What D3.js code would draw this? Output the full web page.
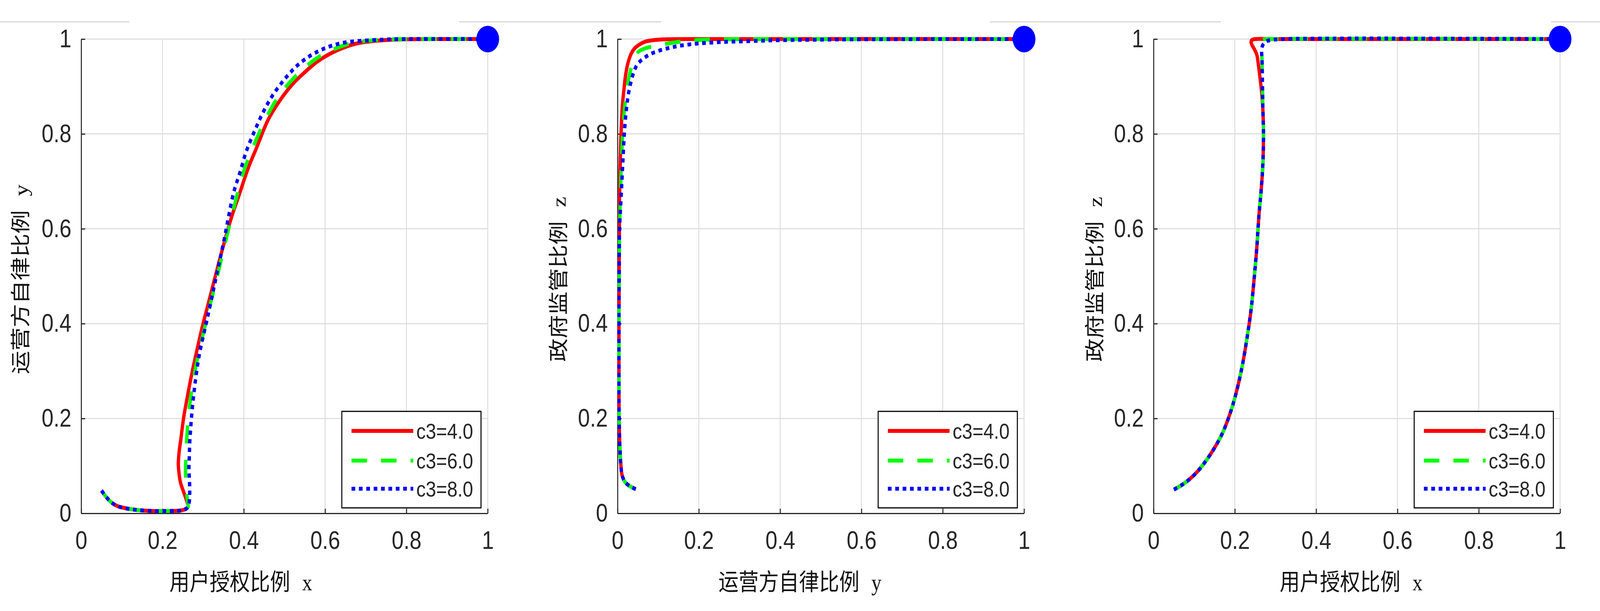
<!DOCTYPE html>
<html>
<head>
<meta charset="utf-8">
<script src="https://cdn.jsdelivr.net/npm/d3@7"></script>
<style>
  html, body { margin: 0; width: 100%; height: 100%; overflow: hidden; background: #fff; }
  svg { display: block; width: 100vw; height: 100vh; }
</style>
</head>
<body>
<svg id="chart"></svg>
<script>
// ---- data ----
const seriesNames = ["c3=4.0", "c3=6.0", "c3=8.0"];
const tickValues = [0, 0.2, 0.4, 0.6, 0.8, 1];
const tickLabels = ["0", "0.2", "0.4", "0.6", "0.8", "1"];
const xLabels = ["用户授权比例", "运营方自律比例", "用户授权比例"];
const xVars = ["x", "y", "x"];
const yLabels = ["运营方自律比例", "政府监管比例", "政府监管比例"];
const yVars = ["y", "z", "z"];
const endPoint = [1, 1];

// panel 1: x (user) vs y (operator)
const xyRed = [[0.05,0.048],[0.062,0.034],[0.076,0.022],[0.09,0.015],[0.105,0.0115],[0.134,0.0074],[0.177,0.005],[0.219,0.005],[0.245,0.006],[0.257,0.009],[0.263,0.014],
  [0.259,0.028],[0.252,0.045],[0.244,0.066],[0.24,0.09],[0.239,0.105],[0.241,0.13],[0.245,0.155],[0.248,0.176],[0.2525,0.204],[0.261,0.245],[0.2735,0.3],[0.284,0.341],
  [0.297,0.39],[0.312,0.44],[0.33,0.5],[0.35,0.565],[0.37,0.625],[0.388,0.67],[0.41,0.726],[0.432,0.772],[0.46,0.83],[0.49,0.872],[0.52,0.905],[0.55,0.93],
  [0.58,0.952],[0.61,0.968],[0.64,0.98],[0.67,0.989],[0.7,0.994],[0.75,0.998],[0.8,0.9995],[0.9,1],[1,1]];
const xyGreen = [[0.05,0.048],[0.062,0.034],[0.076,0.022],[0.09,0.015],[0.105,0.0115],[0.134,0.0074],[0.177,0.005],[0.219,0.005],[0.245,0.006],[0.257,0.009],[0.263,0.014],
  [0.261,0.03],[0.259,0.05],[0.257,0.08],[0.257,0.1],[0.258,0.13],[0.26,0.16],[0.263,0.2],[0.268,0.235],[0.274,0.27],[0.282,0.31],[0.29,0.341],[0.302,0.385],
  [0.316,0.435],[0.332,0.49],[0.35,0.555],[0.37,0.625],[0.394,0.705],[0.412,0.75],[0.43,0.787],[0.46,0.842],[0.49,0.885],[0.52,0.915],[0.55,0.94],[0.58,0.96],
  [0.61,0.974],[0.64,0.985],[0.67,0.992],[0.7,0.996],[0.75,0.999],[0.8,1],[1,1]];
const xyBlue = [[0.05,0.048],[0.062,0.034],[0.076,0.022],[0.09,0.015],[0.105,0.0115],[0.134,0.0074],[0.177,0.005],[0.219,0.005],[0.245,0.006],[0.257,0.009],[0.263,0.014],
  [0.266,0.025],[0.267,0.05],[0.266,0.075],[0.265,0.094],[0.266,0.12],[0.267,0.149],[0.269,0.175],[0.2715,0.204],[0.278,0.259],[0.285,0.305],[0.292,0.341],
  [0.31,0.41],[0.33,0.49],[0.35,0.57],[0.375,0.676],[0.39,0.717],[0.4065,0.764],[0.4275,0.808],[0.448,0.8465],[0.47,0.88],[0.5,0.915],[0.53,0.943],[0.56,0.963],
  [0.59,0.977],[0.62,0.987],[0.65,0.993],[0.7,0.997],[0.75,0.999],[0.8,1],[1,1]];

// panel 2: y (operator) vs z (government)
const yzRed = [[0.045,0.051],[0.037,0.054],[0.029,0.058],[0.018,0.0665],[0.012,0.078],[0.01,0.0855],[0.0077,0.108],[0.0054,0.149],[0.0039,0.204],[0.0035,0.3],
  [0.0036,0.4],[0.004,0.5],[0.0045,0.6],[0.005,0.67],[0.007,0.75],[0.009,0.808],[0.012,0.86],[0.0154,0.89],[0.02,0.925],[0.026,0.9506],[0.034,0.97],[0.0428,0.981],
  [0.055,0.989],[0.068,0.9945],[0.09,0.998],[0.12,0.9995],[0.2,1],[1,1]];
const yzGreen = [[0.045,0.051],[0.037,0.054],[0.029,0.058],[0.018,0.0665],[0.012,0.078],[0.01,0.0855],[0.0077,0.108],[0.0054,0.149],[0.0039,0.204],[0.0035,0.3],
  [0.0036,0.4],[0.004,0.5],[0.005,0.6],[0.007,0.67],[0.009,0.726],[0.012,0.79],[0.0154,0.835],[0.02,0.875],[0.025,0.905],[0.032,0.934],[0.04,0.954],[0.051,0.973],
  [0.07,0.981],[0.09,0.985],[0.11,0.9885],[0.15,0.994],[0.186,0.9975],[0.26,0.9995],[0.4,1],[1,1]];
const yzBlue = [[0.045,0.051],[0.037,0.054],[0.029,0.058],[0.018,0.0665],[0.012,0.078],[0.01,0.0855],[0.0077,0.108],[0.0054,0.149],[0.0039,0.204],[0.0035,0.3],
  [0.0036,0.4],[0.004,0.5],[0.005,0.6],[0.009,0.67],[0.013,0.74],[0.0173,0.808],[0.022,0.853],[0.028,0.89],[0.0405,0.9316],[0.05,0.948],[0.0639,0.959],[0.08,0.968],
  [0.1015,0.9753],[0.13,0.982],[0.156,0.9863],[0.19,0.99],[0.2195,0.992],[0.26,0.994],[0.3036,0.9951],[0.35,0.9965],[0.388,0.9975],[0.5,0.9988],[0.6,0.9995],[0.8,1],[1,1]];

// panel 3: x (user) vs z (government)
const xzRed = [[0.05,0.05],[0.07,0.06],[0.09,0.073],[0.11,0.09],[0.13,0.112],[0.15,0.138],[0.17,0.17],[0.19,0.215],[0.205,0.26],[0.218,0.31],[0.23,0.37],[0.24,0.43],
  [0.248,0.5],[0.254,0.56],[0.2593,0.629],[0.265,0.684],[0.269,0.739],[0.2704,0.8],[0.269,0.849],[0.266,0.887],[0.262,0.9176],[0.258,0.945],[0.254,0.967],
  [0.247,0.98],[0.243,0.986],[0.24,0.9935],[0.242,0.998],[0.251,1],[0.3,1],[1,1]];
const xzGreen = [[0.05,0.05],[0.07,0.06],[0.09,0.073],[0.11,0.09],[0.13,0.112],[0.15,0.138],[0.17,0.17],[0.19,0.215],[0.205,0.26],[0.218,0.31],[0.23,0.37],[0.24,0.43],
  [0.248,0.5],[0.254,0.56],[0.2593,0.629],[0.265,0.684],[0.269,0.739],[0.2704,0.8],[0.269,0.849],[0.268,0.9],[0.267,0.95],[0.266,0.98],[0.266,0.995],[0.27,0.999],[0.3,1],[1,1]];
const xzBlue = [[0.05,0.05],[0.07,0.06],[0.09,0.073],[0.11,0.09],[0.13,0.112],[0.15,0.138],[0.17,0.17],[0.19,0.215],[0.205,0.26],[0.218,0.31],[0.23,0.37],[0.24,0.43],
  [0.248,0.5],[0.254,0.56],[0.2593,0.629],[0.265,0.684],[0.269,0.739],[0.2704,0.8],[0.269,0.849],[0.268,0.9],[0.267,0.95],[0.266,0.975],[0.268,0.986],[0.2756,0.9945],
  [0.29,0.998],[0.32,1],[1,1]];

const panelSeries = [
  [xyRed, xyGreen, xyBlue],
  [yzRed, yzGreen, yzBlue],
  [xzRed, xzGreen, xzBlue]
];

// ---- layout & style ----
const W = 4770, H = 1564;
const panelLeft = [242, 1841, 3439];
const plotTop = 100, plotW = 1212, plotH = 1214;
const xLabelStart = [505, 2142, 3815];
const yLabelX = [83, 1686, 3285];
const topRules = [[0, 386], [1369, 1971], [2951, 3639], [4624, 4770]];
const lineColors = ["#ff0000", "#00ff00", "#0000ff"];
const lineDash = [null, "46,42", "11,11"];
const axisColor = "#262626";
const gridColor = "#dadada";
const cjkFont = "'Noto Sans CJK SC', sans-serif";
const latinSerif = "'Liberation Serif', 'DejaVu Serif', serif";
const numFont = "'Liberation Sans', Arial, sans-serif";

// drawing space is 4770x1564; the svg is stretched over the whole window
const svg = d3.select("#chart")
  .attr("viewBox", [0, 0, W, H])
  .attr("preserveAspectRatio", "none");

svg.append("rect").attr("width", W).attr("height", H).attr("fill", "#fff");

// faint rules along the top edge (present in the source image)
svg.selectAll("line.toprule")
  .data(topRules)
  .enter()
  .append("line")
  .attr("class", "toprule")
  .attr("x1", d => d[0]).attr("x2", d => d[1])
  .attr("y1", 56).attr("y2", 56)
  .attr("stroke", "#d6d6d6")
  .attr("stroke-width", 3);

panelSeries.forEach((series, p) => {
  const x = d3.scaleLinear().domain([0, 1]).range([panelLeft[p], panelLeft[p] + plotW]);
  const y = d3.scaleLinear().domain([0, 1]).range([plotTop + plotH, plotTop]);
  const g = svg.append("g");

  // grid
  g.selectAll("line.gx")
    .data(tickValues.slice(1))
    .enter()
    .append("line")
    .attr("x1", d => x(d)).attr("x2", d => x(d))
    .attr("y1", y(0)).attr("y2", y(1))
    .attr("stroke", gridColor).attr("stroke-width", 2.5);
  g.selectAll("line.gy")
    .data(tickValues.slice(1))
    .enter()
    .append("line")
    .attr("y1", d => y(d)).attr("y2", d => y(d))
    .attr("x1", x(0)).attr("x2", x(1))
    .attr("stroke", gridColor).attr("stroke-width", 2.5);

  // axes (ticks pointing inward, box off)
  const xAxis = d3.axisBottom(x)
    .tickValues(tickValues)
    .tickFormat((d, i) => tickLabels[i])
    .tickSizeInner(-12)
    .tickSizeOuter(0)
    .tickPadding(46);
  const yAxis = d3.axisLeft(y)
    .tickValues(tickValues)
    .tickFormat((d, i) => tickLabels[i])
    .tickSizeInner(-12)
    .tickSizeOuter(0)
    .tickPadding(29);

  [g.append("g").attr("transform", `translate(0,${y(0)})`).call(xAxis),
   g.append("g").attr("transform", `translate(${x(0)},0)`).call(yAxis)]
    .forEach(ax => {
      ax.select(".domain").attr("stroke", axisColor).attr("stroke-width", 3);
      ax.selectAll(".tick line").attr("stroke", axisColor).attr("stroke-width", 3);
      ax.selectAll(".tick text")
        .attr("fill", axisColor)
        .attr("font-family", numFont)
        .attr("font-size", 64);
    });

  // axis labels
  const xl = g.append("text")
    .attr("x", xLabelStart[p])
    .attr("y", 1511)
    .attr("fill", "#111")
    .attr("font-size", 60);
  xl.append("tspan").attr("font-family", cjkFont).text(xLabels[p]);
  xl.append("tspan").attr("font-family", latinSerif).attr("dx", 36).text(xVars[p]);

  const yMid = plotTop + plotH / 2 + 8;
  const yl = g.append("text")
    .attr("transform", `translate(${yLabelX[p]},${yMid}) rotate(-90)`)
    .attr("text-anchor", "middle")
    .attr("fill", "#111")
    .attr("font-size", 60);
  yl.append("tspan").attr("font-family", cjkFont).text(yLabels[p]);
  yl.append("tspan").attr("font-family", latinSerif).attr("dx", 36).text(yVars[p]);

  // curves
  const line = d3.line()
    .x(d => x(d[0]))
    .y(d => y(d[1]))
    .curve(d3.curveCatmullRom.alpha(0.5));

  series.forEach((pts, i) => {
    g.append("path")
      .datum(pts)
      .attr("d", line)
      .attr("fill", "none")
      .attr("stroke", lineColors[i])
      .attr("stroke-width", 10)
      .attr("stroke-linejoin", "round")
      .attr("stroke-dasharray", lineDash[i]);
  });

  // equilibrium point
  g.append("circle")
    .attr("cx", x(endPoint[0]))
    .attr("cy", y(endPoint[1]))
    .attr("r", 34)
    .attr("fill", "#0000ff");

  // legend (south-east)
  const lgW = 415, lgH = 247;
  const lgX = x(1) - 20 - lgW, lgY = y(0) - 14 - lgH;
  const lg = g.append("g").attr("transform", `translate(${lgX},${lgY})`);
  lg.append("rect")
    .attr("width", lgW).attr("height", lgH)
    .attr("fill", "#fff")
    .attr("stroke", "#000")
    .attr("stroke-width", 3);
  const rowY = [50, 126, 198];
  seriesNames.forEach((name, i) => {
    lg.append("line")
      .attr("x1", 29).attr("x2", 213)
      .attr("y1", rowY[i]).attr("y2", rowY[i])
      .attr("stroke", lineColors[i])
      .attr("stroke-width", 10)
      .attr("stroke-dasharray", lineDash[i]);
    lg.append("text")
      .attr("x", 222)
      .attr("y", rowY[i])
      .attr("dy", "0.35em")
      .attr("fill", axisColor)
      .attr("font-family", numFont)
      .attr("font-size", 56)
      .text(name);
  });
});
</script>
</body>
</html>
